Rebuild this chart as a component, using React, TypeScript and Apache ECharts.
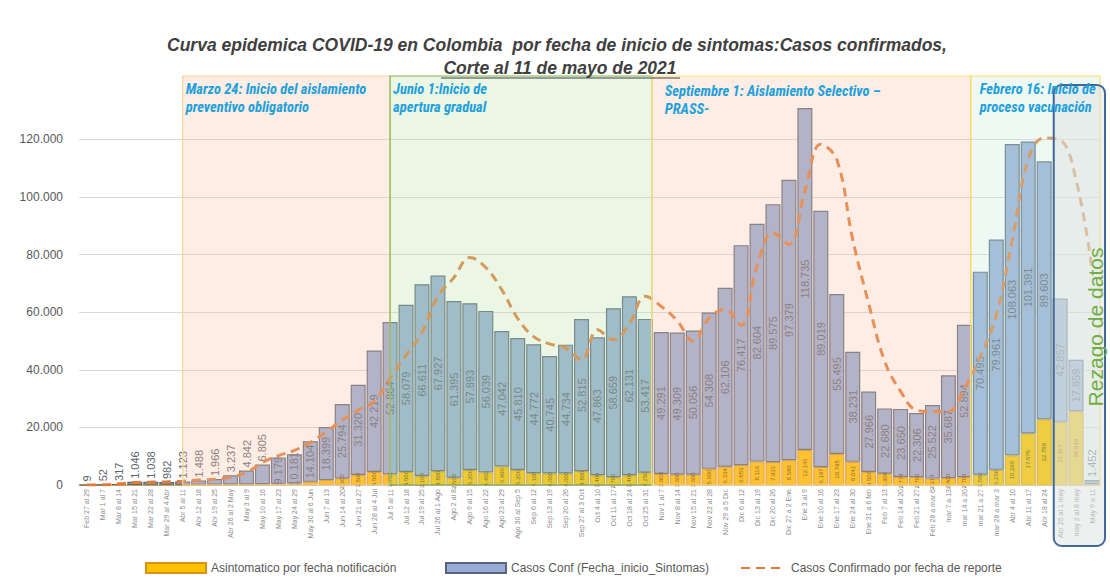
import React, { useEffect, useRef } from "react";
import * as echarts from "echarts";

const weeks = [
  "Feb 27 al 29", "Mar 1 al 7", "Mar 8 al 14", "Mar 15 al 21", "Mar 22 al 28", "Mar 29 al 4 Abr",
  "Abr 5 al 11", "Abr 12 al 18", "Abr 19 al 25", "Abr 26 al 2 May", "May 3 al 9", "May 10 al 16",
  "May 17 al 23", "May 24 al 29", "May 30 al 6 Jun", "Jun 7 al 13", "Jun 14 al 20", "Jun 21 al 27",
  "Jun 28 al 4 Jul", "Jul 5 al 11", "Jul 12 al 18", "Jul 19 al 25", "Jul 26 al 1 Ago", "Ago 2 al 8",
  "Ago 9 al 15", "Ago 16 al 22", "Ago 23 al 29", "Ago 30 al Sep 5", "Sep 6 al 12", "Sep 13 al 19",
  "Sep 20 al 26", "Sep 27 al 3 Oct", "Oct 4 al 10", "Oct 11 al 17", "Oct 18 al 24", "Oct 25 al 31",
  "Nov 1 al 7", "Nov 8 al 14", "Nov 15 al 21", "Nov 22 al 28", "Nov 29 a 5 Dic", "Dic 6 al 12",
  "Dic 13 al 19", "Dic 20 al 26", "Dic 27 a 2 Ene", "Ene 3 al 9", "Ene 10 al 16", "Ene 17 al 23",
  "Ene 24 al 30", "Ene 31 a 6 feb", "Feb 7 al 13", "Feb 14 al 20", "Feb 21 al 27", "Feb 28 a mar 6",
  "mar 7 a 13", "mar 14 a 20", "mar 21 a 27", "mar 28 a mar 3", "Abr 4 al 10", "Abr 11 al 17",
  "Abr 18 al 24", "Abr 25 al 1 may", "may 2 al 8 may", "May 9 a 11",
];

const asintomaticos = [
  0, 2, 10, 40, 60, 50, 60, 80, 100, 150,
  200, 300, 400, 500, 1100, 1700, 2300, 3500, 4500, 3700,
  4500, 3100, 4800, 2500, 5200, 4400, 6400, 5200, 4100, 4000,
  4000, 4800, 3400, 2700, 3400, 4250, 3800, 3600, 3600, 5600,
  6334, 6853, 8116, 7933, 8580, 12141, 6197, 10795, 8042, 4500,
  3908, 2774, 2700, 2214, 2400, 2700, 3580, 5260, 10296, 17878,
  22789, 21917, 25616, 300,
];

const casosConf = [
  9, 52, 317, 1046, 1038, 982, 1123, 1488, 1966, 3237,
  4842, 6805, 9179, 10181, 14104, 18399, 25794, 31320, 42219, 52864,
  58079, 66611, 67927, 61395, 57893, 56039, 47042, 45810, 44772, 40745,
  44734, 52815, 47863, 58659, 62131, 53417, 49291, 49309, 50056, 54308,
  62106, 76417, 82604, 89575, 97379, 118735, 89019, 55495, 38231, 27966,
  22680, 23650, 22306, 25522, 35687, 52894, 70495, 79961, 108063, 101391,
  89603, 42857, 17859, 1452,
];

const casosReporte = [
  0, 60, 400, 900, 1000, 1100, 1300, 1700, 2000, 2700,
  4400, 7800, 10200, 12000, 14800, 18500, 22600, 26000, 29000, 37000,
  45000, 53000, 65500, 72000, 79000, 75500, 67800, 57800, 51500, 49000,
  47600, 43500, 53900, 50400, 56000, 65500, 62000, 57000, 50000, 58000,
  61000, 55500, 76000, 87600, 83500, 102000, 118300, 113000, 85200, 63000,
  43000, 32500, 26000, 25500, 25500, 33500, 44600, 59000, 85000, 113000,
  120500, 119800, 106000, 75000,
];

const Y_MAX = 142000;
const Y_INTERVAL = 20000;
const Y_LAST_LABEL = 120000;

// Period boxes, in category positions (fractional)
const periodos = [
  { from: 6, to: 19, fill: "rgba(248,196,165,0.30)", stroke: "#f5d58f", text: ["Marzo 24: Inicio del aislamiento", "preventivo obligatorio"] },
  { from: 19, to: 35.4, fill: "rgba(190,225,170,0.30)", stroke: "#7cb352", text: ["Junio 1:Inicio de", "apertura gradual"] },
  { from: 35.4, to: 55.4, fill: "rgba(248,196,165,0.30)", stroke: "#ffe07a", text: ["Septiembre 1: Aislamiento Selectivo –", "PRASS-"] },
  { from: 55.4, to: 63.5, fill: "rgba(200,235,215,0.30)", stroke: "#ffd966", text: ["Febrero 16: Inicio de", "proceso vacunación"] },
];
const REZAGO_FROM = 60.6;

const NAME_ASINT = "Asintomatico por fecha notificación";
const NAME_CONF = "Casos Conf (Fecha_inicio_Sintomas)";
const NAME_REP = "Casos Confirmado por fecha de reporte";

const fmt = (v: number) => String(Math.round(v)).replace(/\B(?=(\d{3})+(?!\d))/g, ".");

const NARROW = "'Liberation Sans Narrow', 'Arial Narrow', 'Roboto Condensed', 'Liberation Sans', sans-serif";
const SANS = "'Liberation Sans', Arial, sans-serif";

export default function App() {
  const ref = useRef<HTMLDivElement>(null);

  useEffect(() => {
    if (!ref.current) return;
    const chart = echarts.init(ref.current, null, { renderer: "svg" });

    const splitColors: string[] = [];
    for (let v = 0; v <= Y_MAX + Y_INTERVAL; v += Y_INTERVAL) {
      splitColors.push(v === 0 || v > Y_LAST_LABEL ? "rgba(0,0,0,0)" : "#d9d9d9");
    }

    const legendText = { fontSize: 12, color: "#595959", fontFamily: SANS };

    const option: any = {
      animation: false,
      backgroundColor: "#ffffff",
      grid: { left: 79, right: 10, top: 76, bottom: 101, containLabel: false },
      legend: [
        { data: [NAME_ASINT], left: 140, top: 557, itemWidth: 60, itemHeight: 10, icon: "rect", textStyle: legendText },
        { data: [NAME_CONF], left: 440, top: 557, itemWidth: 60, itemHeight: 10, icon: "rect", textStyle: legendText },
        {
          data: [NAME_REP], left: 735, top: 557, itemWidth: 45, itemHeight: 10, textStyle: legendText,
          itemStyle: { opacity: 0 },
        },
      ],
      xAxis: [
        {
          type: "category",
          data: weeks,
          axisLabel: { rotate: 90, fontSize: 7, color: "#8c8c8c", interval: 0, margin: 4, fontFamily: SANS },
          axisTick: { show: false },
          axisLine: { lineStyle: { color: "#bfbfbf" } },
        },
        { type: "value", min: -0.5, max: weeks.length - 0.5, show: false },
      ],
      yAxis: {
        type: "value",
        min: 0,
        max: Y_MAX,
        interval: Y_INTERVAL,
        axisLine: { show: false },
        axisTick: { show: false },
        axisLabel: {
          fontSize: 12,
          color: "#595959",
          margin: 16,
          fontFamily: SANS,
          formatter: (v: number) => (v > Y_LAST_LABEL ? "" : fmt(v)),
        },
        splitLine: { lineStyle: { color: splitColors, width: 1 } },
      },
      series: [
        {
          name: NAME_ASINT,
          type: "bar",
          stack: "total",
          barCategoryGap: "6%",
          data: asintomaticos,
          itemStyle: { color: "#ffc000", borderColor: "#d8941a", borderWidth: 1 },
          label: {
            show: true,
            position: "inside",
            rotate: 90,
            fontSize: 6,
            color: "#5c4a14",
            fontFamily: SANS,
            formatter: (p: any) => (p.value >= 2200 ? fmt(p.value) : ""),
          },
        },
        {
          name: NAME_CONF,
          type: "bar",
          stack: "total",
          barCategoryGap: "6%",
          data: casosConf.map((v) =>
            v < 8000
              ? { value: v, label: { position: "top", align: "left", verticalAlign: "middle", distance: 3 } }
              : { value: v }
          ),
          itemStyle: { color: "#96acd7", borderColor: "#5a6677", borderWidth: 1.2 },
          label: {
            show: true,
            position: "inside",
            rotate: 90,
            fontSize: 11,
            color: "#5d6270",
            fontFamily: SANS,
            formatter: (p: any) => fmt(p.value),
          },
        },
        {
          name: NAME_REP,
          type: "line",
          data: casosReporte,
          smooth: 0.4,
          symbol: "none",
          z: 5,
          itemStyle: { color: "#e07b39" },
          lineStyle: { color: "#e07b39", width: 3, type: [9, 6] },
        },
      ],
    };

    chart.setOption(option);

    const px = (v: number) => chart.convertToPixel({ xAxisIndex: 1 } as any, v) as number;
    const py = (v: number) => chart.convertToPixel({ yAxisIndex: 0 } as any, v) as number;
    const top = py(Y_MAX);
    const bottom = py(0);

    const elements: any[] = [];
    periodos.forEach((p, i) => {
      const x0 = px(p.from);
      const x1 = px(p.to);
      elements.push({
        type: "rect",
        z: 10,
        silent: true,
        shape: { x: x0, y: top, width: x1 - x0, height: bottom - top },
        style: { fill: p.fill, stroke: p.stroke, lineWidth: 1.2 },
      });
      const tx = x0 + (i === 2 ? 13 : i === 3 ? 9 : 3);
      const ty = i === 2 ? 91 : 89;
      p.text.forEach((t, j) => {
        elements.push({
          type: "text",
          z: 30,
          silent: true,
          x: tx,
          y: ty + j * 18,
          style: {
            text: t,
            fill: "#1ea0dc",
            fontSize: 14.5,
            fontStyle: "italic",
            fontWeight: "bold",
            fontFamily: NARROW,
            verticalAlign: "middle",
            align: "left",
          },
        });
      });
    });

    const rx0 = px(REZAGO_FROM);
    const rx1 = px(weeks.length - 0.5) + 5;
    elements.push({
      type: "rect",
      z: 20,
      silent: true,
      shape: { x: rx0, y: 85, width: rx1 - rx0, height: 461, r: 8 },
      style: { fill: "rgba(222,225,225,0.5)", stroke: "#41689a", lineWidth: 2 },
    });
    elements.push({
      type: "text",
      z: 30,
      silent: true,
      x: 1095,
      y: 327,
      rotation: Math.PI / 2,
      style: { text: "Rezago de datos", fill: "#70ad47", fontSize: 21, fontFamily: SANS, align: "center", verticalAlign: "middle" },
    });
    elements.push({
      type: "text",
      z: 30,
      silent: true,
      x: 557,
      y: 45,
      style: {
        text: "Curva epidemica COVID-19 en Colombia  por fecha de inicio de sintomas:Casos confirmados,",
        fill: "#404040",
        fontSize: 17.5,
        fontStyle: "italic",
        fontWeight: "bold",
        fontFamily: SANS,
        align: "center",
        verticalAlign: "middle",
      },
    });
    elements.push({
      type: "text",
      z: 30,
      silent: true,
      x: 560,
      y: 68,
      style: {
        text: "Corte al 11 de mayo de 2021",
        fill: "#404040",
        fontSize: 17.5,
        fontStyle: "italic",
        fontWeight: "bold",
        fontFamily: SANS,
        align: "center",
        verticalAlign: "middle",
      },
    });
    elements.push({
      type: "line",
      z: 30,
      silent: true,
      shape: { x1: 441, y1: 78, x2: 680, y2: 78 },
      style: { stroke: "#404040", lineWidth: 1 },
    });

    chart.setOption({ graphic: { elements } });

    return () => chart.dispose();
  }, []);

  return (
    <div
      ref={ref}
      style={{ position: "fixed", left: 0, top: 0, width: 1110, height: 586, background: "#fff" }}
    />
  );
}
